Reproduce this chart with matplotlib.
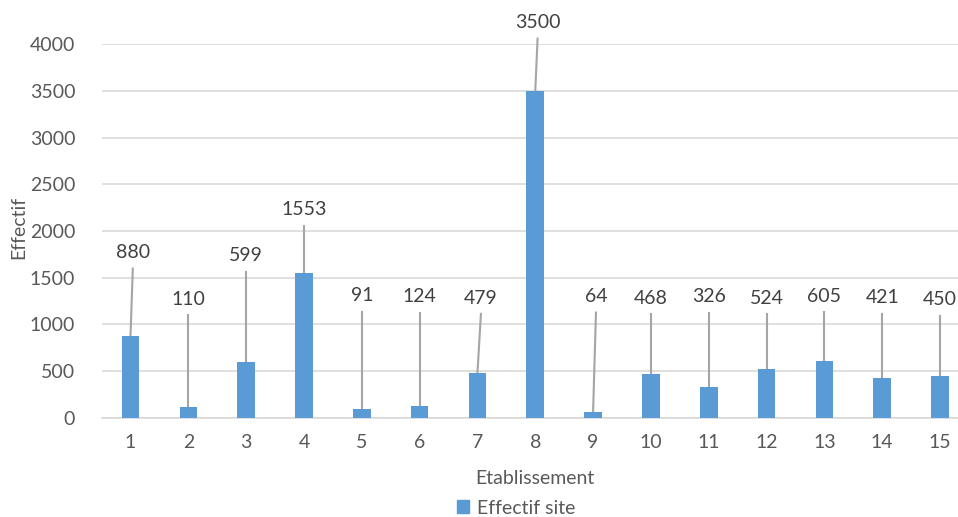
import numpy as np
import matplotlib.pyplot as plt
from matplotlib.patches import Patch

plt.rcParams['font.family'] = ['Lato', 'DejaVu Sans']

# effectifs par etablissement
etablissements = list(range(1, 16))
effectifs = [880, 110, 599, 1553, 91, 124, 479, 3500, 64, 468, 326, 524, 605, 421, 450]

# where the data labels sit (y in data units, x shift in categories)
label_y = [1767, 1268, 1735, 2225, 1307, 1293, 1282, 4231, 1296, 1279, 1296, 1282, 1303, 1285, 1261]
label_dx = [0.04, 0.0, 0.0, 0.0, 0.0, 0.0, 0.06, 0.04, 0.05, 0.0, 0.0, 0.0, 0.0, 0.0, 0.0]

bar_col = '#5B9BD5'
txt_col = '#595959'
grid_col = '#D9D9D9'
lead_col = '#A5A5A5'
fs = 14

fig = plt.figure(figsize=(9.58, 5.17), dpi=100)
ax = fig.add_axes([101.6 / 958, 99.3 / 517, (958 - 101.6) / 958, (472.7 - 99.3) / 517])

x = np.array(etablissements)
ax.bar(x, effectifs, width=0.305, color=bar_col, zorder=3)

# leader lines + labels
for xi, v, ly, dx in zip(x, effectifs, label_y, label_dx):
    ax.plot([xi, xi + dx], [v, ly - 170], color=lead_col, lw=1.5, zorder=2, clip_on=False)
    ax.text(xi + dx, ly, str(v), ha='center', va='center', fontsize=fs,
            color='#404040', clip_on=False)

ax.set_xlim(0.5, 15.311)
ax.set_ylim(0, 4000)
ax.set_yticks(np.arange(0, 4001, 500))
ax.set_xticks(x)
ax.grid(axis='y', color=grid_col, lw=1.2, zorder=0)
for s in ['top', 'right', 'left']:
    ax.spines[s].set_visible(False)
ax.spines['bottom'].set_color(grid_col)
ax.spines['bottom'].set_linewidth(1.2)
ax.tick_params(axis='both', length=0, labelsize=fs, labelcolor=txt_col)
ax.tick_params(axis='x', pad=12)
ax.tick_params(axis='y', pad=19)

fig.text(19 / 958, 1 - 227 / 517, 'Effectif', rotation=90, ha='center', va='center',
         fontsize=fs, color=txt_col)
fig.text(535 / 958, 1 - 479 / 517, 'Etablissement', ha='center', va='center',
         fontsize=fs, color=txt_col)

fig.legend(handles=[Patch(color=bar_col, label='Effectif site')], loc='center',
           bbox_to_anchor=(516 / 958, 1 - 508 / 517), frameon=False, fontsize=fs,
           handlelength=0.6, handleheight=0.6, handletextpad=0.4, labelcolor=txt_col)

fig.savefig('out.png', dpi=100)
